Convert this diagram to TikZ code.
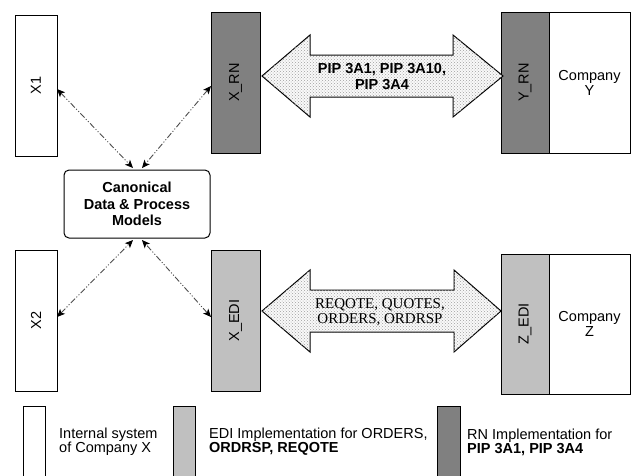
\documentclass[tikz,border=0pt]{standalone}
\usepackage{fontspec}
\setmainfont{Liberation Serif}
\setsansfont{Liberation Sans}
\usetikzlibrary{arrows.meta,positioning,patterns}

\definecolor{rngray}{HTML}{808080}
\definecolor{edigray}{HTML}{C0C0C0}

\tikzset{
  sys/.style={draw, line width=1pt, inner sep=0pt, outer sep=0pt, align=center,
              font=\sffamily\fontsize{14.5}{15}\selectfont},
  link/.style={<->, line width=0.9pt, black!70,
               dash pattern=on 6pt off 2pt on 1pt off 2pt on 1pt off 2pt},
  bigarrow/.style={draw, line width=1pt, fill=gray!5,
                   postaction={pattern=crosshatch dots, pattern color=gray!75}},
  legtext/.style={anchor=west, inner sep=0pt, align=left,
                  font=\sffamily\fontsize{14.5}{14}\selectfont}
}

\begin{document}
\begin{tikzpicture}[x=1pt, y=-1pt, >={Stealth[length=8pt, width=7pt, inset=2pt, black]}]

        \useasboundingbox (0,0) rectangle (631,475);

        % systems of company X
        \node[sys, minimum width=42pt, minimum height=141pt]                 (x1)   at (36,85.5)    {\rotatebox{90}{X1}};
        \node[sys, minimum width=42pt, minimum height=141pt]                 (x2)   at (36,320.5)   {\rotatebox{90}{X2}};
        \node[sys, fill=rngray,  minimum width=49pt, minimum height=141pt]   (xrn)  at (235.5,82.5) {\rotatebox{90}{X\_RN}};
        \node[sys, fill=edigray, minimum width=49pt, minimum height=141pt]   (xedi) at (235.5,320.5){\rotatebox{90}{X\_EDI}};
        \node[sys, rounded corners=5pt, minimum width=146pt, minimum height=68pt,
              font=\sffamily\bfseries\fontsize{14.5}{16.5}\selectfont]      (canon) at (137,204)    {Canonical\\Data \& Process\\Models};

        % partners
        \node[sys, fill=rngray,  minimum width=48pt, minimum height=141pt]   (yrn)  at (525,82.5)   {\rotatebox{90}{Y\_RN}};
        \node[sys, minimum width=81pt, minimum height=141pt] (compy) [right=0pt of yrn]  {Company\\Y};
        \node[sys, fill=edigray, minimum width=48pt, minimum height=140pt]   (zedi) at (525,324)    {\rotatebox{90}{Z\_EDI}};
        \node[sys, minimum width=81pt, minimum height=140pt] (compz) [right=0pt of zedi] {Company\\Z};

        % links to the canonical models
        \draw[link] (x1.east |- 0,89)   -- ([xshift=-4pt,yshift=2pt]canon.north);
        \draw[link] (xrn.west |- 0,86)  -- ([xshift=5pt,yshift=2pt]canon.north);
        \draw[link] (x2.east |- 0,317)  -- ([xshift=-4pt,yshift=-2pt]canon.south);
        \draw[link] (xedi.west |- 0,317) -- ([xshift=5pt,yshift=-2pt]canon.south);

        % message exchange
        \draw[bigarrow] (262,76) -- (310,35) -- (310,55) -- (453,55) -- (453,35) -- (503,76)
                        -- (453,117) -- (453,97) -- (310,97) -- (310,117) -- cycle;
        \node[align=center, inner sep=0pt, font=\sffamily\bfseries\fontsize{14.5}{16}\selectfont]
              (rnmsg) at (382,76.5) {PIP 3A1, PIP 3A10,\\PIP 3A4};

        \draw[bigarrow] (262,311) -- (310,270) -- (310,290) -- (454,290) -- (454,270) -- (501,311)
                        -- (454,352) -- (454,332) -- (310,332) -- (310,352) -- cycle;
        \node[align=center, inner sep=0pt, font=\rmfamily\fontsize{15}{15}\selectfont]
              (edimsg) at (380,312.5) {REQOTE, QUOTES,\\ORDERS, ORDRSP};

        % legend
        \draw[line width=1pt, fill=white]   (23,480)  |- (45,406)  -- (45,480);
        \draw[line width=1pt, fill=edigray] (173,480) |- (195,406) -- (195,480);
        \draw[line width=1pt, fill=rngray]  (437,480) |- (460,406) -- (460,480);
        \node[legtext] (leg1) at (59,442)  {Internal system\\of Company X};
        \node[legtext] (leg2) at (209,442) {EDI Implementation for ORDERS,\\\textbf{ORDRSP, REQOTE}};
        \node[legtext] (leg3) at (467,442) {RN Implementation for\\\textbf{PIP 3A1, PIP 3A4}};

\end{tikzpicture}
\end{document}
